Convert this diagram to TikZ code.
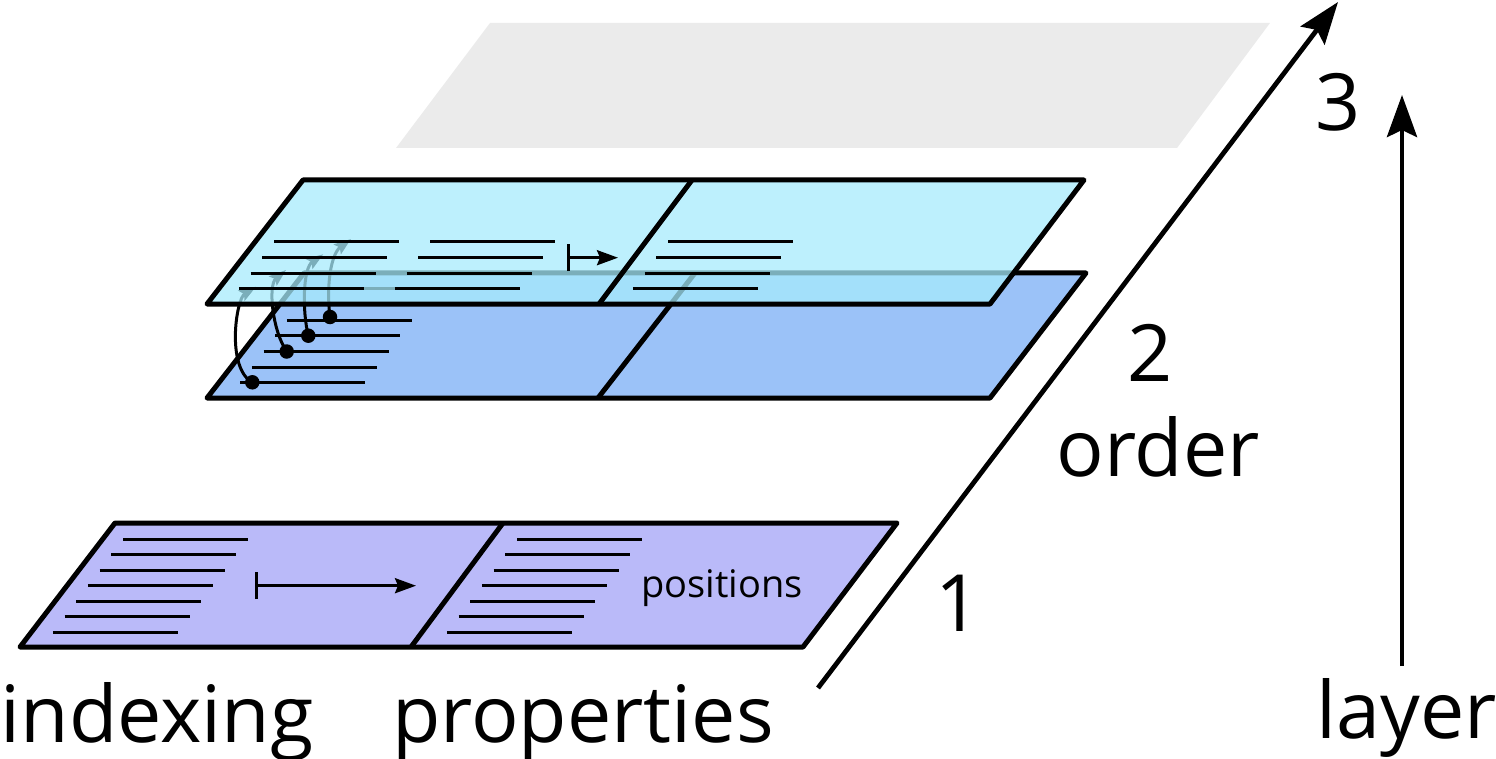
\documentclass[tikz,border=0pt]{standalone}
\usepackage{fontspec}
\setmainfont{Open Sans}
\usetikzlibrary{arrows.meta}
\definecolor{violetfill}{RGB}{186,186,249}
\definecolor{bluefill}{RGB}{155,194,248}
\definecolor{cyanfill}{RGB}{166,235,252}
\definecolor{grayfill}{RGB}{235,235,235}
\tikzset{
  plane/.style={draw=black, line width=5pt, line join=round},
  rowline/.style={draw=black, line width=3pt},
  bigarrow/.style={draw=black, line width=4.8pt, -{Stealth[length=42pt,width=30pt,inset=7pt]}},
  maparrow/.style={draw=black, line width=2.9pt, {Bar[width=27pt,line width=3.2pt]}-{Stealth[length=21pt,width=15pt,inset=3pt]}},
  curvearrow/.style={draw=black, line width=3pt, -{Stealth[length=17pt,width=12pt,inset=3pt]}},
  dot/.style={circle, fill=black, inner sep=0pt, minimum size=14.5pt},
  biglabel/.style={anchor=base, inner sep=0pt, font=\fontsize{79}{90}\selectfont},
  smalllabel/.style={anchor=base, inner sep=0pt, font=\fontsize{38}{44}\selectfont}
}
\begin{document}
\begin{tikzpicture}[x=1pt,y=-1pt]
\useasboundingbox (0,0) rectangle (1496,759);

% layer 3 (grey)
\fill[grayfill] (490,23) -- (1270,23) -- (1177,148) -- (396,148) -- cycle;

% axes
\coordinate (diagstart) at (818,688);
\coordinate (diagend) at (1338,2);
\draw[bigarrow] (diagstart) -- (diagend);
\coordinate (vstart) at (1402,666);
\coordinate (vend) at (1402,95);
\draw[bigarrow] (vstart) -- (vend);

% labels
\node[biglabel] (l3) at (1338,131) {3};
\node[biglabel] (l2) at (1150,381) {2};
\node[biglabel] (lorder) at (1158,476) {order};
\node[biglabel] (l1) at (958,631) {1};
\node[biglabel] (lindexing) at (157,742) {indexing};
\node[biglabel] (lproperties) at (583,742) {properties};
\node[biglabel] (llayer) at (1407,738) {layer};

% layer 1 (violet)
\filldraw[plane, fill=violetfill] (115,523) -- (897,523) -- (803,647) -- (20,647) -- cycle;
\draw[plane] (503,523) -- (411,647);
\foreach \k in {0,...,6} {
  \draw[rowline] ({123-11.67*\k},{539+15.55*\k}) -- ({248-11.67*\k},{539+15.55*\k});
  \draw[rowline] ({517-11.67*\k},{539+15.55*\k}) -- ({642-11.67*\k},{539+15.55*\k});
}
\coordinate (m1s) at (255,585.7);
\coordinate (m1e) at (416,585.7);
\draw[maparrow] (m1s) -- (m1e);
\node[smalllabel] (lpos) at (722,597) {positions};

% layer 2 lower (blue)
\filldraw[plane, fill=bluefill] (304,273) -- (1086,273) -- (990,398) -- (207,398) -- cycle;
\draw[plane] (695,273) -- (598,398);
\foreach \k in {0,...,6} {
  \draw[rowline] ({310.3-11.67*\k},{289+15.6*\k}) -- ({435.3-11.67*\k},{289+15.6*\k});
}

% moves between rows
\node[dot] (d1) at (330,317) {};
\node[dot] (d2) at (308.3,335.7) {};
\node[dot] (d3) at (286.7,351.5) {};
\node[dot] (d4) at (252.3,382.3) {};
\coordinate (t1) at (351,239);
\coordinate (t2) at (323.3,254.3);
\coordinate (t3) at (286,270);
\coordinate (t4) at (256,286.7);
\draw[curvearrow] (d1.center) .. controls (326,285) and (331,254) .. (t1);
\draw[curvearrow] (d2.center) .. controls (302,310) and (303,268) .. (t2);
\draw[curvearrow] (d3.center) .. controls (272,330) and (268,285) .. (t3);
\draw[curvearrow] (d4.center) .. controls (226,368) and (236,299) .. (t4);

% layer 2 upper (cyan, translucent)
\filldraw[plane, fill=cyanfill, fill opacity=0.74] (303,180) -- (1084,180) -- (990,304) -- (207,304) -- cycle;
\draw[plane] (692,180) -- (599,304);
\foreach \k in {0,...,3} {
  \draw[rowline] ({274-11.67*\k},{241.7+15.67*\k}) -- ({399-11.67*\k},{241.7+15.67*\k});
  \draw[rowline] ({430-11.67*\k},{241.7+15.67*\k}) -- ({555-11.67*\k},{241.7+15.67*\k});
  \draw[rowline] ({668-11.67*\k},{241.7+15.67*\k}) -- ({793-11.67*\k},{241.7+15.67*\k});
}
\coordinate (m2s) at (567,257.7);
\coordinate (m2e) at (618,257.7);
\draw[maparrow] (m2s) -- (m2e);
\end{tikzpicture}
\end{document}
